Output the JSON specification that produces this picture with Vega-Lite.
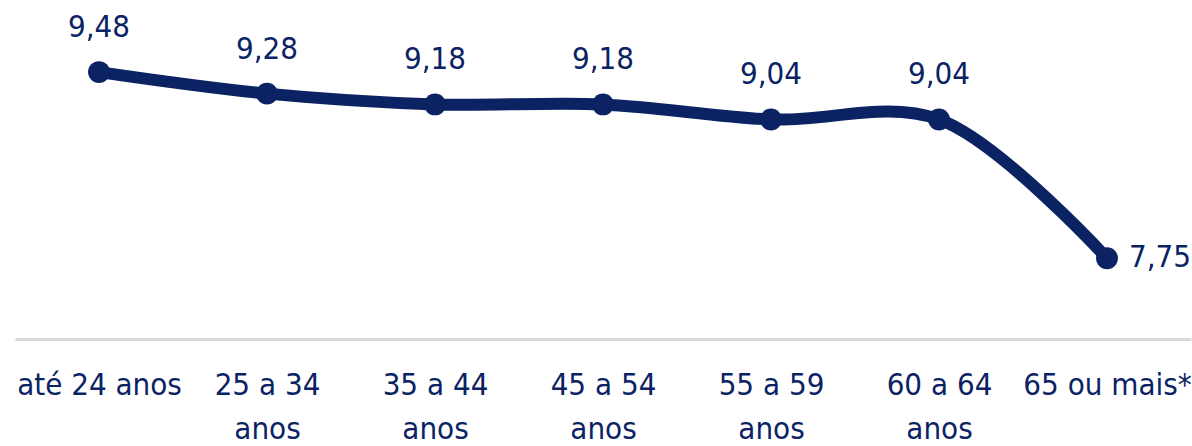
{
  "$schema": "https://vega.github.io/schema/vega-lite/v6.json",
  "width": 1176,
  "height": 339,
  "autosize": {"type": "none"},
  "padding": {"left": 15, "top": 0, "right": 1, "bottom": 107},
  "config": {
    "view": {"stroke": null},
    "font": "'DejaVu Sans Condensed', sans-serif",
    "locale": {"number": {"decimal": ",", "thousands": ".", "grouping": [3], "currency": ["R$", ""]}}
  },
  "data": {
    "values": [
      {"faixa": "até 24 anos", "nota": 9.48},
      {"faixa": "25 a 34 anos", "nota": 9.28},
      {"faixa": "35 a 44 anos", "nota": 9.18},
      {"faixa": "45 a 54 anos", "nota": 9.18},
      {"faixa": "55 a 59 anos", "nota": 9.04},
      {"faixa": "60 a 64 anos", "nota": 9.04},
      {"faixa": "65 ou mais*", "nota": 7.75}
    ]
  },
  "encoding": {
    "x": {
      "field": "faixa",
      "type": "ordinal",
      "sort": null,
      "scale": {"type": "point", "padding": 0.5},
      "axis": {
        "title": null,
        "labelAngle": 0,
        "ticks": false,
        "domainColor": "#d9d9d9",
        "domainWidth": 3,
        "labelFont": "'DejaVu Sans Condensed', sans-serif",
        "labelFontSize": 31,
        "labelColor": "#0b2363",
        "labelPadding": 31,
        "labelBaseline": "top",
        "labelLineHeight": 44,
        "labelOverlap": false,
        "labelBound": false,
        "labelFlush": false,
        "labelLimit": 0,
        "labelExpr": "datum.label == 'até 24 anos' || datum.label == '65 ou mais*' ? datum.label : split(replace(datum.label, ' anos', '|anos'), '|')"
      }
    },
    "y": {
      "field": "nota",
      "type": "quantitative",
      "scale": {"domain": [7, 10.15], "zero": false, "nice": false},
      "axis": null
    }
  },
  "layer": [
    {"mark": {"type": "line", "interpolate": "catmull-rom", "strokeWidth": 12, "color": "#0b2363", "strokeCap": "round"}},
    {"mark": {"type": "point", "filled": true, "size": 480, "opacity": 1, "color": "#0b2363"}},
    {
      "transform": [{"filter": "datum.faixa != '65 ou mais*'"}],
      "mark": {"type": "text", "dy": -35, "fontSize": 31, "color": "#0b2363", "font": "'DejaVu Sans Condensed', sans-serif", "baseline": "alphabetic"},
      "encoding": {"text": {"field": "nota", "type": "quantitative", "format": ".2f"}}
    },
    {
      "transform": [{"filter": "datum.faixa == '65 ou mais*'"}],
      "mark": {"type": "text", "dx": 22, "fontSize": 31, "color": "#0b2363", "font": "'DejaVu Sans Condensed', sans-serif", "align": "left", "baseline": "middle"},
      "encoding": {"text": {"field": "nota", "type": "quantitative", "format": ".2f"}}
    }
  ]
}
